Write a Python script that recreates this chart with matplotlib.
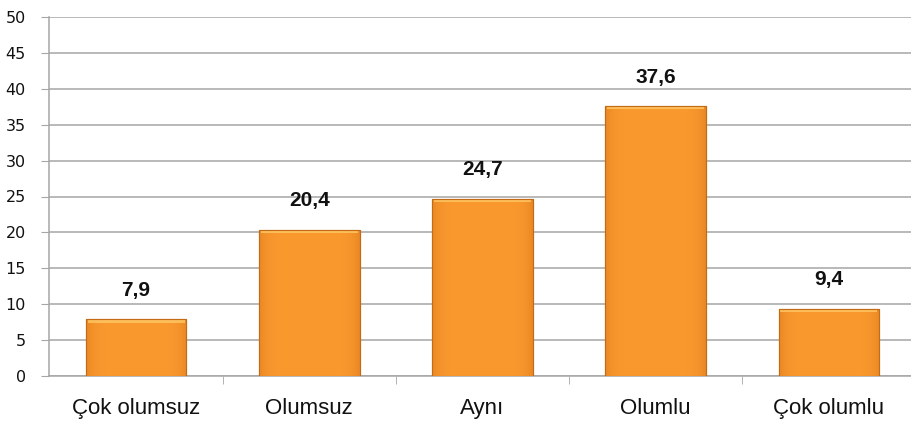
import numpy as np
import matplotlib.pyplot as plt
from matplotlib.patches import Rectangle

categories = ['Çok olumsuz', 'Olumsuz', 'Aynı', 'Olumlu', 'Çok olumlu']
values = [7.9, 20.4, 24.7, 37.6, 9.4]
value_labels = ['7,9', '20,4', '24,7', '37,6', '9,4']

fig = plt.figure(figsize=(9.12, 4.25), dpi=100)
ax = fig.add_axes([49.5 / 912, 49 / 425, 866 / 912, 359 / 425])

x = np.arange(len(categories))
width = 0.58
bars = ax.bar(x, values, width=width, color='#F7922A', edgecolor='#C46A14',
              linewidth=0.8, zorder=3)

# horizontal gradient inside each bar (darker edges, lighter middle)
grad = np.linspace(-1, 1, 200)
shade = 1 - 0.5 * np.abs(grad) ** 6
base = np.array([0.98, 0.60, 0.18])
dark = np.array([0.85, 0.47, 0.10])
img = np.array([base * s + dark * (1 - s) for s in shade])[np.newaxis, :, :]
for b in bars:
    x0, y0 = b.get_x(), b.get_y()
    w, h = b.get_width(), b.get_height()
    im = ax.imshow(img, extent=[x0, x0 + w, y0, y0 + h], aspect='auto', zorder=3.1)
    im.set_clip_path(b)
    # light bevel at the top
    ax.add_patch(Rectangle((x0 + 0.01, y0 + h - 0.45), w - 0.02, 0.35,
                           facecolor='#FFC866', edgecolor='none', alpha=0.8, zorder=3.2))
    ax.add_patch(Rectangle((x0, y0), w, h, facecolor='none', edgecolor='#C46A14',
                           linewidth=0.8, zorder=3.3))

for xi, v, lab in zip(x, values, value_labels):
    ax.text(xi, v + 2.7, lab, ha='center', va='bottom', fontsize=15,
            fontweight='bold', family='Liberation Sans', color='#111111')

ax.set_xlim(-0.5, len(categories) - 0.5)
ax.set_ylim(0, 50)
ax.set_yticks(np.arange(0, 51, 5))
ax.yaxis.grid(True, color='#A6A6A6', linewidth=1.1, zorder=0)
ax.set_axisbelow(True)

ax.set_xticks(x)
ax.set_xticklabels(categories, fontsize=16, family='Liberation Sans', color='#111111')
ax.set_xticks(np.arange(0.5, len(categories) - 0.5, 1), minor=True)
ax.tick_params(axis='x', which='major', length=0, pad=16)
ax.tick_params(axis='x', which='minor', length=6, color='#A6A6A6', direction='out')
ax.tick_params(axis='y', length=6, color='#A6A6A6', pad=11, labelsize=11.5,
               labelcolor='#111111')
for t in ax.get_yticklabels():
    t.set_family('DejaVu Sans')

for s in ['top', 'right']:
    ax.spines[s].set_visible(False)
for s in ['left', 'bottom']:
    ax.spines[s].set_color('#A6A6A6')
    ax.spines[s].set_linewidth(1.1)

fig.savefig('out.png', dpi=100, facecolor='white')
